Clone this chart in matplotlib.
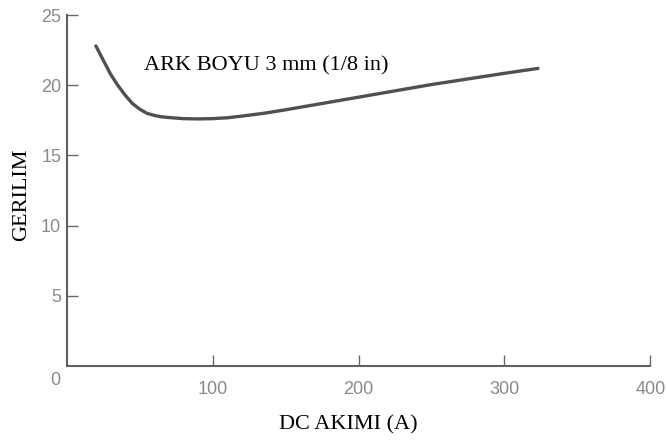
import matplotlib.pyplot as plt

# DC akimi (A) ve ark gerilimi (V)
akim = [20, 25, 30, 35, 40, 45, 50, 55, 60, 65, 70, 80, 90, 100, 110,
        120, 135, 150, 175, 200, 225, 250, 275, 300, 323]
gerilim = [22.8, 21.8, 20.8, 20.0, 19.3, 18.7, 18.3, 18.0, 17.85, 17.75,
           17.7, 17.62, 17.6, 17.62, 17.68, 17.8, 18.0, 18.25, 18.7, 19.15,
           19.6, 20.05, 20.45, 20.85, 21.2]

x_ticks = [100, 200, 300, 400]
y_ticks = [5, 10, 15, 20, 25]

fig = plt.figure(figsize=(6.67, 4.44), dpi=100)
ax = fig.add_axes([0.1, 0.176, 0.875, 0.79])

ax.plot(akim, gerilim, color='#505050', linewidth=2.4, solid_capstyle='round')

ax.set_xlim(0, 400)
ax.set_ylim(0, 25)
ax.set_xticks(x_ticks)
ax.set_yticks(y_ticks)

for s in ['top', 'right']:
    ax.spines[s].set_visible(False)
for s in ['left', 'bottom']:
    ax.spines[s].set_color('#606060')
    ax.spines[s].set_linewidth(1.5)

ax.tick_params(direction='in', length=8, width=1, colors='#666666',
               labelcolor='#8a8a8a', labelsize=13)
ax.tick_params(axis='x', pad=11)
ax.tick_params(axis='y', pad=4)
for lbl in ax.get_xticklabels() + ax.get_yticklabels():
    lbl.set_family('Liberation Sans')

# orijindeki ortak "0" etiketi
ax.text(-8, -1.05, '0', ha='center', va='center', fontsize=13,
        color='#8a8a8a', family='Liberation Sans')

ax.set_xlabel('DC AKIMI (A)', family='Liberation Serif', fontsize=16)
ax.set_ylabel('GERILIM', family='Liberation Serif', fontsize=16)
ax.xaxis.label.set_va('center')
ax.yaxis.label.set_va('center')
ax.xaxis.set_label_coords(0.482, -0.168)
ax.yaxis.set_label_coords(-0.077, 0.487)

ax.text(53, 21.4, 'ARK BOYU 3 mm (1/8 in)', family='Liberation Serif',
        fontsize=16, va='center')

fig.savefig('out.png', dpi=100)
